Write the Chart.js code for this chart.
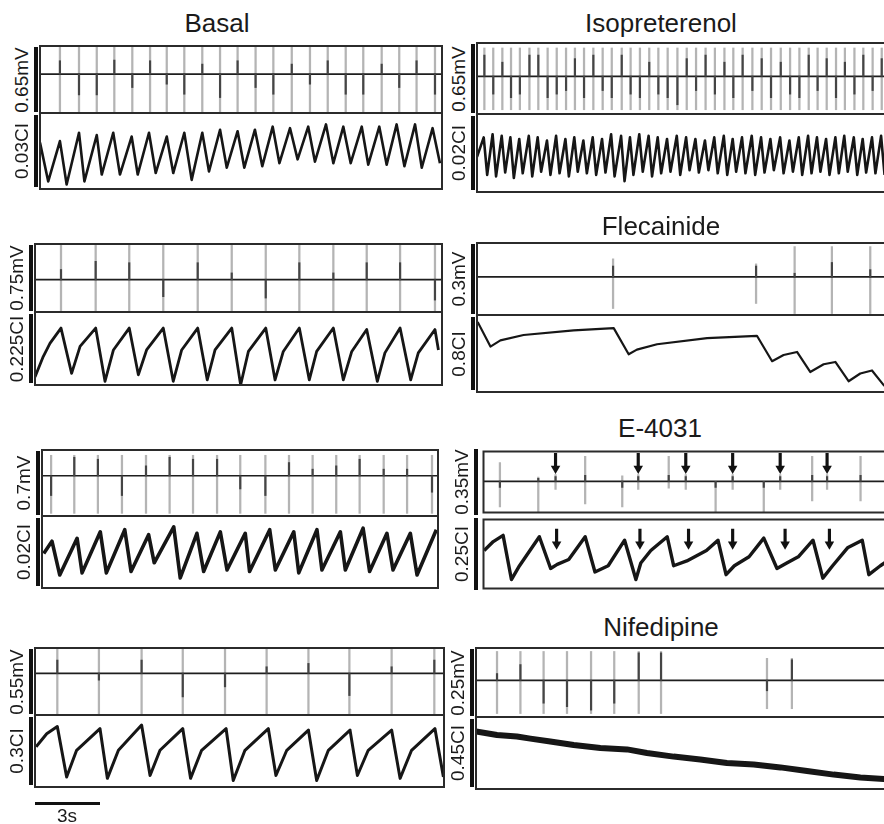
<!DOCTYPE html>
<html>
<head>
<meta charset="utf-8">
<script src="https://cdn.jsdelivr.net/npm/chart.js@4.4.1/dist/chart.umd.min.js"></script>
<style>
  html, body { margin: 0; padding: 0; background: #fff; }
  #fig { position: relative; width: 884px; height: 824px; overflow: hidden;
         font-family: "Liberation Sans", Arial, sans-serif; color: #1a1a1a; }
  #fig canvas { position: absolute; }
  .title { position: absolute; font-size: 26px; transform: translate(-50%, -50%); white-space: nowrap; }
  .ylab { position: absolute; font-size: 19px; transform: translate(-50%, -50%) rotate(-90deg); white-space: nowrap; }
  .vbar { position: absolute; width: 4px; background: #111; }
</style>
</head>
<body>
<div id="fig"></div>
<script>
/* ─── DATA (time in s, traces normalised 0..1 inside each box) ─── */

// field potential baselines, one per panel
const fpBaseline = [0.58, 0.53, 0.475, 0.53, 0.61, 0.51, 0.62, 0.53];

// Basal
const basalFpT = [0.92, 1.80, 2.62, 3.43, 4.26, 5.08, 5.85, 6.66, 7.49, 8.31, 9.12, 9.95, 10.77, 11.62, 12.46, 13.28, 14.11, 14.92, 15.77, 16.58, 17.38, 18.23];
const basalFpDark = [0.2, -0.31, -0.31, 0.21, -0.2, 0.2, -0.15, -0.3, 0.15, -0.35, 0.2, -0.2, -0.3, 0.15, -0.15, 0.2, -0.3, -0.3, 0.15, -0.2, 0.2, -0.3];
const basalCaT = [0.00, 0.38, 0.92, 1.23, 1.80, 2.05, 2.62, 2.85, 3.38, 3.69, 4.23, 4.51, 5.03, 5.34, 5.85, 6.15, 6.66, 7.00, 7.49, 7.80, 8.31, 8.62, 9.12, 9.43, 9.92, 10.26, 10.74, 11.05, 11.54, 11.89, 12.38, 12.69, 13.20, 13.54, 14.00, 14.34, 14.85, 15.15, 15.66, 16.00, 16.46, 16.82, 17.31, 17.62, 18.12, 18.46];
const basalCaV = [0.61, 0.10, 0.63, 0.06, 0.74, 0.10, 0.71, 0.19, 0.74, 0.19, 0.69, 0.19, 0.74, 0.21, 0.69, 0.21, 0.74, 0.12, 0.74, 0.23, 0.78, 0.28, 0.76, 0.28, 0.78, 0.30, 0.82, 0.34, 0.80, 0.39, 0.82, 0.36, 0.85, 0.34, 0.82, 0.34, 0.82, 0.32, 0.82, 0.32, 0.85, 0.30, 0.85, 0.28, 0.80, 0.34];

// Isopreterenol
const isoFpT = [0.34, 0.75, 1.17, 1.57, 1.98, 2.42, 2.83, 3.26, 3.68, 4.11, 4.52, 4.94, 5.37, 5.80, 6.22, 6.68, 7.09, 7.52, 7.95, 8.37, 8.80, 9.25, 9.68, 10.11, 10.55, 10.98, 11.42, 11.83, 12.26, 12.71, 13.14, 13.57, 14.02, 14.45, 14.88, 15.31, 15.72, 16.14, 16.57, 16.98, 17.42, 17.83, 18.26, 18.68];
const isoFpDark = [0.3, -0.25, 0.2, -0.3, -0.25, 0.3, 0.3, -0.3, -0.25, -0.2, 0.25, -0.3, 0.3, -0.2, -0.3, 0.3, -0.25, -0.3, 0.2, -0.25, -0.3, -0.4, 0.25, -0.2, 0.3, -0.25, 0.2, -0.3, 0.3, -0.2, 0.25, -0.3, 0.2, -0.25, -0.3, 0.3, -0.2, 0.25, -0.3, 0.2, -0.25, 0.3, -0.2, 0.25];
const isoCaT = [0.00, 0.31, 0.47, 0.72, 0.88, 1.14, 1.30, 1.54, 1.70, 1.95, 2.11, 2.39, 2.55, 2.80, 2.96, 3.23, 3.39, 3.65, 3.81, 4.08, 4.24, 4.49, 4.65, 4.91, 5.07, 5.34, 5.50, 5.77, 5.93, 6.19, 6.35, 6.65, 6.81, 7.06, 7.22, 7.49, 7.65, 7.92, 8.08, 8.34, 8.50, 8.77, 8.93, 9.22, 9.38, 9.65, 9.81, 10.08, 10.24, 10.52, 10.68, 10.95, 11.11, 11.39, 11.55, 11.80, 11.96, 12.23, 12.39, 12.68, 12.84, 13.11, 13.27, 13.54, 13.70, 13.99, 14.15, 14.42, 14.58, 14.85, 15.01, 15.28, 15.44, 15.69, 15.85, 16.11, 16.27, 16.54, 16.70, 16.95, 17.11, 17.39, 17.55, 17.80, 17.96, 18.23, 18.39, 18.65, 18.81];
const isoCaV = [0.45, 0.70, 0.22, 0.74, 0.20, 0.72, 0.25, 0.70, 0.18, 0.68, 0.24, 0.72, 0.20, 0.70, 0.26, 0.66, 0.22, 0.72, 0.24, 0.68, 0.20, 0.70, 0.26, 0.66, 0.24, 0.70, 0.22, 0.68, 0.25, 0.74, 0.20, 0.72, 0.14, 0.70, 0.22, 0.74, 0.26, 0.72, 0.20, 0.70, 0.24, 0.68, 0.26, 0.72, 0.22, 0.70, 0.28, 0.68, 0.25, 0.66, 0.28, 0.70, 0.24, 0.72, 0.22, 0.68, 0.26, 0.70, 0.24, 0.72, 0.22, 0.70, 0.25, 0.68, 0.28, 0.70, 0.24, 0.66, 0.26, 0.70, 0.22, 0.72, 0.24, 0.70, 0.26, 0.68, 0.22, 0.70, 0.24, 0.72, 0.26, 0.70, 0.22, 0.68, 0.25, 0.70, 0.24, 0.72, 0.22];

// Basal, second culture (row 2 left)
const basal2FpT = [1.20, 2.80, 4.35, 5.92, 7.51, 9.08, 10.65, 12.20, 13.77, 15.31, 16.85, 18.46];
const basal2FpDark = [0.15, 0.27, 0.25, -0.25, 0.25, 0.1, -0.27, 0.25, 0.1, 0.25, 0.25, -0.3];
const basal2CaT = [0.00, 0.38, 0.69, 1.20, 1.69, 2.08, 2.80, 3.23, 3.62, 4.35, 4.77, 5.15, 5.92, 6.38, 6.77, 7.51, 7.95, 8.31, 9.08, 9.49, 9.85, 10.65, 11.08, 11.46, 12.20, 12.66, 13.00, 13.77, 14.23, 14.62, 15.31, 15.80, 16.15, 16.85, 17.34, 17.69, 18.46, 18.62];
const basal2CaV = [0.11, 0.39, 0.57, 0.78, 0.16, 0.53, 0.78, 0.05, 0.48, 0.78, 0.14, 0.48, 0.78, 0.05, 0.48, 0.78, 0.07, 0.48, 0.78, 0.00, 0.46, 0.78, 0.07, 0.46, 0.78, 0.07, 0.46, 0.78, 0.07, 0.46, 0.76, 0.05, 0.44, 0.78, 0.07, 0.44, 0.76, 0.48];

// Flecainide
const flecFpT = [6.28, 12.88, 14.66, 16.38, 18.15];
const flecFpHi = [0.78, 0.71, 0.95, 0.95, 0.95];
const flecFpLo = [0.09, 0.16, 0.02, 0.02, 0.02];
const flecFpDark = [0.15, 0.15, 0.05, 0.2, 0.1];
const flecCaT = [0.03, 0.62, 1.08, 2.15, 4.46, 6.31, 7.00, 7.38, 8.31, 10.62, 12.92, 13.62, 14.15, 14.77, 15.38, 16.00, 16.54, 17.15, 17.69, 18.23, 18.77, 18.95];
const flecCaV = [0.91, 0.59, 0.67, 0.74, 0.80, 0.83, 0.49, 0.55, 0.62, 0.70, 0.73, 0.40, 0.48, 0.52, 0.26, 0.36, 0.39, 0.14, 0.24, 0.28, 0.09, 0.04];

// Basal, third culture (row 3 left)
const basal3FpT = [0.42, 1.49, 2.58, 3.69, 4.80, 5.89, 6.97, 8.08, 9.15, 10.31, 11.40, 12.49, 13.58, 14.66, 15.77, 16.85, 18.00];
const basal3FpDark = [-0.3, 0.28, 0.25, -0.3, 0.15, 0.28, 0.25, 0.25, -0.2, -0.3, 0.2, 0.1, 0.15, 0.25, 0.1, 0.1, -0.25];
const basal3CaT = [0.08, 0.46, 0.82, 1.62, 1.85, 2.69, 2.97, 3.82, 4.11, 4.92, 5.18, 6.08, 6.38, 7.15, 7.46, 8.23, 8.54, 9.38, 9.58, 10.51, 10.77, 11.62, 11.85, 12.69, 12.92, 13.77, 14.00, 14.82, 15.12, 15.92, 16.20, 17.00, 17.31, 18.20];
const basal3CaV = [0.48, 0.65, 0.18, 0.69, 0.21, 0.78, 0.21, 0.81, 0.23, 0.74, 0.35, 0.85, 0.14, 0.76, 0.23, 0.78, 0.25, 0.76, 0.23, 0.81, 0.25, 0.78, 0.21, 0.81, 0.25, 0.78, 0.25, 0.83, 0.23, 0.76, 0.25, 0.76, 0.18, 0.81];

// E-4031
const e4031FpT = [0.77, 2.57, 3.38, 4.77, 6.51, 7.26, 8.69, 9.49, 10.89, 11.69, 13.15, 13.92, 15.42, 16.12, 17.69];
const e4031FpHi = [0.82, 0.58, 0.62, 0.92, 0.60, 0.62, 0.92, 0.62, 0.50, 0.62, 0.50, 0.62, 0.92, 0.62, 0.92];
const e4031FpLo = [0.09, 0.01, 0.38, 0.14, 0.09, 0.38, 0.40, 0.38, 0.01, 0.38, 0.01, 0.38, 0.19, 0.38, 0.19];
const e4031FpDark = [-0.1, 0.05, 0.08, 0.1, -0.1, 0.08, 0.1, 0.08, -0.1, 0.08, -0.1, 0.08, 0.1, 0.08, 0.1];
const e4031ArrowFpT = [3.38, 7.26, 9.49, 11.69, 13.92, 16.12];
const e4031ArrowCaT = [3.43, 7.34, 9.62, 11.69, 14.15, 16.23];
const e4031CaT = [0.03, 0.46, 0.92, 1.31, 1.69, 2.62, 3.15, 3.46, 4.00, 4.77, 5.23, 5.85, 6.62, 7.15, 7.38, 7.85, 8.62, 8.92, 9.54, 10.46, 11.00, 11.38, 11.77, 12.46, 13.15, 13.77, 14.23, 14.77, 15.46, 15.92, 16.38, 17.08, 17.77, 18.08, 18.62, 19.20];
const e4031CaV = [0.55, 0.68, 0.77, 0.13, 0.33, 0.75, 0.29, 0.35, 0.42, 0.75, 0.24, 0.33, 0.70, 0.13, 0.37, 0.55, 0.75, 0.33, 0.40, 0.55, 0.70, 0.20, 0.33, 0.46, 0.73, 0.29, 0.37, 0.46, 0.70, 0.15, 0.33, 0.59, 0.70, 0.20, 0.33, 0.45];

// Basal, fourth culture (row 4 left)
const basal4FpT = [1.03, 2.95, 4.92, 6.82, 8.77, 10.69, 12.62, 14.51, 16.46, 18.43];
const basal4FpDark = [0.2, -0.1, 0.2, -0.35, -0.2, 0.1, 0.15, -0.33, 0.1, 0.2];
const basal4CaT = [0.05, 0.54, 1.03, 1.46, 1.92, 3.00, 3.34, 3.85, 4.92, 5.31, 5.77, 6.82, 7.18, 7.69, 8.82, 9.15, 9.69, 10.77, 11.12, 11.62, 12.62, 13.00, 13.54, 14.54, 14.88, 15.38, 16.46, 16.85, 17.38, 18.46, 18.85];
const basal4CaV = [0.56, 0.74, 0.84, 0.14, 0.51, 0.81, 0.12, 0.51, 0.86, 0.16, 0.51, 0.81, 0.12, 0.51, 0.81, 0.09, 0.51, 0.81, 0.16, 0.51, 0.79, 0.09, 0.51, 0.79, 0.16, 0.51, 0.79, 0.12, 0.51, 0.81, 0.14];

// Nifedipine
const nifFpT = [0.97, 2.05, 3.12, 4.20, 5.31, 6.38, 7.51, 8.54, 13.43, 14.58];
const nifFpHi = [0.95, 0.95, 0.95, 0.95, 0.95, 0.95, 0.95, 0.95, 0.85, 0.85];
const nifFpLo = [0.05, 0.05, 0.05, 0.05, 0.05, 0.05, 0.05, 0.05, 0.12, 0.12];
const nifFpDark = [0.1, 0.23, -0.33, -0.38, -0.43, -0.33, 0.4, 0.4, -0.15, 0.3];
const nifCaT = [0.00, 0.97, 1.89, 2.51, 3.43, 4.51, 5.74, 6.97, 7.89, 9.12, 10.35, 11.58, 12.82, 14.05, 15.28, 16.51, 17.74, 18.82, 19.50];
const nifCaV = [0.80, 0.75, 0.73, 0.70, 0.66, 0.61, 0.57, 0.55, 0.50, 0.45, 0.41, 0.36, 0.34, 0.30, 0.25, 0.20, 0.16, 0.14, 0.12];

/* ─── LAYOUT ─────────────────────────────── */

const PX_PER_S = 65 / 3;   // 3 s scale bar is 65 px long

const PANELS = [
  { title: 'Basal', tx: 217, ty: 23, left: 40, right: 442, top: 46, mid: 113, bottom: 189,
    fpLabel: '0.65mV', caLabel: '0.03CI', fpT: basalFpT, fpHi: 0.98, fpLo: 0.02, fpDark: basalFpDark,
    caT: basalCaT, caV: basalCaV, caWidth: 2.6 },
  { title: 'Isopreterenol', tx: 661, ty: 23, left: 477, right: 910, top: 43, mid: 114, bottom: 192,
    fpLabel: '0.65mV', caLabel: '0.02CI', fpT: isoFpT, fpHi: 0.93, fpLo: 0.06, fpDark: isoFpDark,
    caT: isoCaT, caV: isoCaV, caWidth: 2.6 },
  { title: null, left: 35, right: 442, top: 244, mid: 312, bottom: 385,
    fpLabel: '0.75mV', caLabel: '0.225CI', fpT: basal2FpT, fpHi: 0.98, fpLo: 0.02, fpDark: basal2FpDark,
    caT: basal2CaT, caV: basal2CaV, caWidth: 2.8 },
  { title: 'Flecainide', tx: 661, ty: 226, left: 477, right: 910, top: 243, mid: 315, bottom: 392,
    fpLabel: '0.3mV', caLabel: '0.8CI', fpT: flecFpT, fpHi: flecFpHi, fpLo: flecFpLo, fpDark: flecFpDark,
    caT: flecCaT, caV: flecCaV, caWidth: 2.2 },
  { title: null, left: 42, right: 438, top: 450, mid: 516, bottom: 588,
    fpLabel: '0.7mV', caLabel: '0.02CI', fpT: basal3FpT, fpHi: 0.92, fpLo: 0.04, fpDark: basal3FpDark,
    caT: basal3CaT, caV: basal3CaV, caWidth: 3.6 },
  { title: 'E-4031', tx: 660, ty: 428, left: 480, right: 910, top: 448, mid: 516, bottom: 592,
    fpLabel: '0.35mV', caLabel: '0.25CI', fpT: e4031FpT, fpHi: e4031FpHi, fpLo: e4031FpLo, fpDark: e4031FpDark,
    caT: e4031CaT, caV: e4031CaV, caWidth: 3.4,
    arrows: { fpT: e4031ArrowFpT, fpTop: 0.97, fpHead: 0.72, caT: e4031ArrowCaT, caTop: 0.86, caHead: 0.64 } },
  { title: null, left: 35, right: 444, top: 648, mid: 715, bottom: 787,
    fpLabel: '0.55mV', caLabel: '0.3CI', fpT: basal4FpT, fpHi: 0.98, fpLo: 0.02, fpDark: basal4FpDark,
    caT: basal4CaT, caV: basal4CaV, caWidth: 3.0 },
  { title: 'Nifedipine', tx: 661, ty: 627, left: 476, right: 910, top: 648, mid: 717, bottom: 789,
    fpLabel: '0.25mV', caLabel: '0.45CI', fpT: nifFpT, fpHi: nifFpHi, fpLo: nifFpLo, fpDark: nifFpDark,
    caT: nifCaT, caV: nifCaV, caWidth: 6 },
];

/* ─── CHARTS ─────────────────────────────── */

const fig = document.getElementById('fig');
const PAD = 2;

const framePlugin = {
  id: 'frame',
  afterDraw(chart) {
    const { ctx, chartArea: a } = chart;
    ctx.save();
    ctx.strokeStyle = '#2b2b2b';
    ctx.lineWidth = 2;
    ctx.strokeRect(a.left, a.top, a.right - a.left, a.bottom - a.top);
    ctx.restore();
  }
};

const pick = (v, i) => Array.isArray(v) ? v[i] : v;

function addEl(cls, x, y, text) {
  const d = document.createElement('div');
  d.className = cls;
  d.style.left = x + 'px';
  d.style.top = y + 'px';
  if (text) d.textContent = text;
  fig.appendChild(d);
  return d;
}

function addCanvas(x, y, w, h) {
  const c = document.createElement('canvas');
  c.width = w; c.height = h;
  c.style.left = x + 'px'; c.style.top = y + 'px';
  c.style.width = w + 'px'; c.style.height = h + 'px';
  fig.appendChild(c);
  return c;
}

function baseOptions(xmax) {
  return {
    animation: false,
    responsive: false,
    events: [],
    layout: { padding: PAD },
    plugins: { legend: { display: false }, tooltip: { enabled: false } },
    scales: {
      x: { type: 'linear', display: false, min: 0, max: xmax, offset: false },
      y: { type: 'linear', display: false, min: 0, max: 1 }
    }
  };
}

function arrowSets(times, top, head) {
  return [
    { type: 'bar', data: times.map(t => ({ x: t, y: [head, top] })), backgroundColor: '#111',
      barThickness: 2.5, grouped: false, order: 0 },
    { type: 'line', data: times.map(t => ({ x: t, y: head })), showLine: false,
      pointStyle: 'triangle', rotation: 180, pointRadius: 5.5,
      pointBackgroundColor: '#111', pointBorderColor: '#111', pointBorderWidth: 0, order: 0 }
  ];
}

function drawPanel(p, base) {
  const w = p.right - p.left;
  const xmax = w / PX_PER_S;

  // field potential box
  const hFp = p.mid - p.top;
  const c1 = addCanvas(p.left - PAD, p.top - PAD, w + 2 * PAD, hFp + 2 * PAD);
  const fpSets = [
    { type: 'bar', data: p.fpT.map((t, i) => ({ x: t, y: [pick(p.fpLo, i), pick(p.fpHi, i)] })),
      backgroundColor: '#b4b4b4', barThickness: 1.6, grouped: false, order: 4 },
    { type: 'line', data: [{ x: 0, y: base }, { x: xmax, y: base }],
      borderColor: '#1e1e1e', borderWidth: 1.7, pointRadius: 0, order: 3 },
    { type: 'bar', data: p.fpT.map((t, i) => ({ x: t, y: [base, base + p.fpDark[i]] })),
      backgroundColor: '#454545', barThickness: 1.5, grouped: false, order: 2 }
  ];
  if (p.arrows) fpSets.push(...arrowSets(p.arrows.fpT, p.arrows.fpTop, p.arrows.fpHead));
  new Chart(c1, { type: 'line', data: { datasets: fpSets }, options: baseOptions(xmax), plugins: [framePlugin] });

  // calcium box
  const hCa = p.bottom - p.mid;
  const c2 = addCanvas(p.left - PAD, p.mid - PAD, w + 2 * PAD, hCa + 2 * PAD);
  const caSets = [
    { type: 'line', data: p.caT.map((t, i) => ({ x: t, y: p.caV[i] })),
      borderColor: '#161616', borderWidth: p.caWidth, pointRadius: 0, tension: 0,
      borderJoinStyle: 'round', order: 2 }
  ];
  if (p.arrows) caSets.push(...arrowSets(p.arrows.caT, p.arrows.caTop, p.arrows.caHead));
  new Chart(c2, { type: 'line', data: { datasets: caSets }, options: baseOptions(xmax), plugins: [framePlugin] });

  // scale labels + bars at the left
  if (p.title) addEl('title', p.tx, p.ty, p.title);
  addEl('ylab', p.left - 18, (p.top + p.mid) / 2, p.fpLabel);
  addEl('ylab', p.left - 18, (p.mid + p.bottom) / 2, p.caLabel);
  const b1 = addEl('vbar', p.left - 6, p.top + 1);
  b1.style.height = (hFp - 2) + 'px';
  const b2 = addEl('vbar', p.left - 6, p.mid + 2);
  b2.style.height = (hCa - 4) + 'px';
}

PANELS.forEach((p, i) => drawPanel(p, fpBaseline[i]));

// 3 s time bar
const sb = addEl('vbar', 35, 802);
sb.style.width = '65px';
sb.style.height = '3px';
addEl('title', 67, 816, '3s').style.fontSize = '19px';
</script>
</body>
</html>
